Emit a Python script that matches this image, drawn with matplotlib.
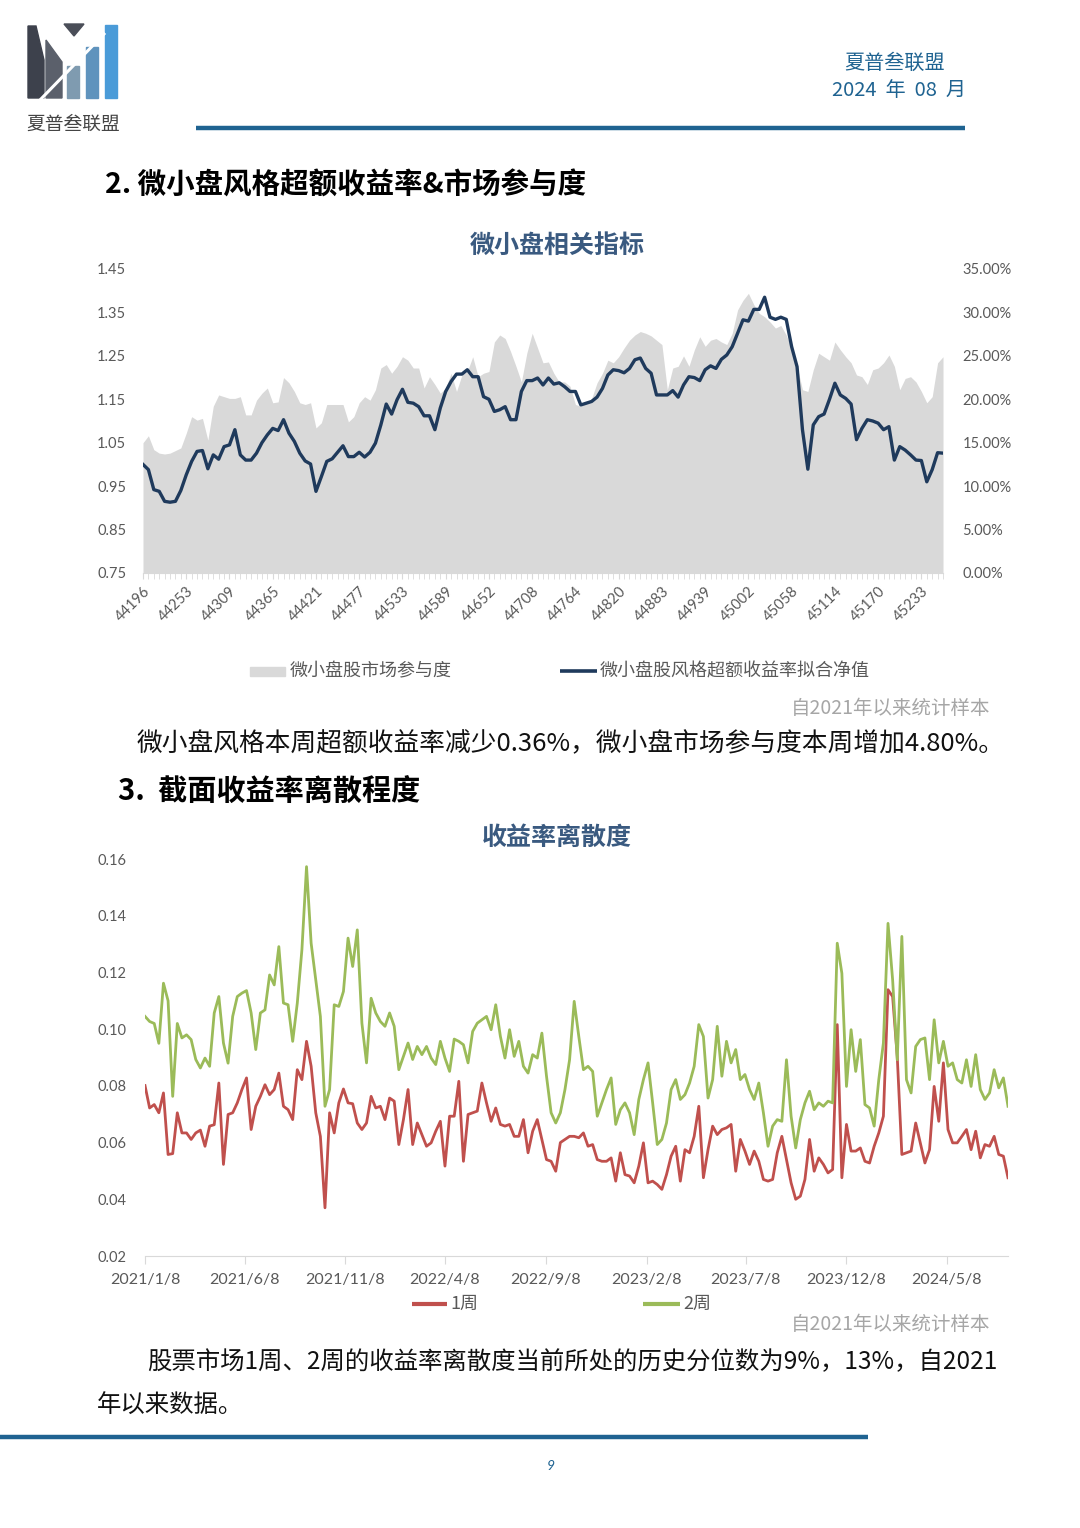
import matplotlib
matplotlib.use("Agg")
import matplotlib.pyplot as plt
from matplotlib.patches import Polygon, Rectangle
import pandas as pd

plt.rcParams['font.family'] = ['Lato', 'Noto Sans CJK SC', 'DejaVu Sans']
CJK = ['Noto Sans CJK SC', 'DejaVu Sans']

# ---- chart 1: 微小盘相关指标 (weekly, category axis) ----
tick_labels_1 = ['44196', '44253', '44309', '44365', '44421', '44477', '44533', '44589', '44652',
                 '44708', '44764', '44820', '44883', '44939', '45002', '45058', '45114', '45170', '45233']

excess_nav = [1.000, 0.988, 0.942, 0.938, 0.915, 0.913, 0.915, 0.940, 0.976, 1.007,
              1.030, 1.032, 0.990, 1.022, 1.012, 1.041, 1.045, 1.080, 1.022, 1.010,
              1.010, 1.026, 1.050, 1.068, 1.083, 1.078, 1.103, 1.072, 1.053, 1.026,
              1.008, 1.001, 0.938, 0.972, 1.007, 1.013, 1.028, 1.043, 1.018, 1.018,
              1.028, 1.017, 1.028, 1.049, 1.091, 1.139, 1.116, 1.149, 1.173, 1.143,
              1.141, 1.133, 1.112, 1.112, 1.080, 1.130, 1.168, 1.191, 1.208, 1.208,
              1.218, 1.202, 1.202, 1.156, 1.150, 1.122, 1.126, 1.133, 1.103, 1.103,
              1.168, 1.193, 1.193, 1.199, 1.183, 1.199, 1.185, 1.188, 1.179, 1.168,
              1.168, 1.137, 1.141, 1.145, 1.155, 1.175, 1.206, 1.218, 1.216, 1.211,
              1.221, 1.241, 1.245, 1.221, 1.210, 1.160, 1.160, 1.160, 1.170, 1.155,
              1.183, 1.202, 1.200, 1.193, 1.218, 1.227, 1.221, 1.242, 1.252, 1.271,
              1.302, 1.333, 1.330, 1.357, 1.357, 1.385, 1.339, 1.334, 1.339, 1.334,
              1.271, 1.225, 1.080, 0.989, 1.091, 1.110, 1.116, 1.150, 1.187, 1.160,
              1.152, 1.139, 1.057, 1.083, 1.103, 1.100, 1.095, 1.080, 1.087, 1.010,
              1.041, 1.033, 1.022, 1.010, 1.009, 0.960, 0.988, 1.027, 1.026]

participation = [15.0, 15.8, 14.2, 13.8, 13.7, 13.8, 14.1, 14.4, 16.1, 18.0,
                 17.6, 17.8, 15.3, 19.2, 20.5, 20.3, 20.1, 20.1, 20.3, 18.2,
                 18.2, 19.9, 20.7, 21.3, 19.6, 19.7, 22.5, 21.9, 20.9, 19.6,
                 19.4, 19.6, 16.7, 17.3, 19.4, 19.4, 19.4, 19.4, 17.4, 18.0,
                 19.6, 20.3, 19.9, 21.1, 23.6, 24.0, 23.0, 23.8, 24.9, 24.5,
                 23.6, 23.6, 21.3, 22.6, 21.7, 20.7, 21.3, 23.0, 20.9, 22.8,
                 23.2, 24.9, 22.6, 23.0, 23.2, 26.6, 27.4, 27.0, 25.5, 23.8,
                 22.0, 25.3, 27.6, 25.9, 24.2, 24.3, 23.0, 22.0, 22.0, 21.5,
                 19.4, 19.2, 19.6, 20.1, 21.9, 23.0, 24.5, 24.2, 24.9, 25.9,
                 26.8, 27.4, 27.8, 27.6, 27.3, 26.8, 26.3, 21.1, 23.6, 23.8,
                 25.0, 23.8, 25.7, 27.2, 26.1, 26.8, 27.0, 26.6, 26.3, 27.6,
                 30.3, 31.4, 32.2, 30.9, 29.9, 29.5, 28.9, 28.2, 28.5, 27.4,
                 25.9, 23.8, 21.1, 20.9, 23.4, 25.3, 24.9, 24.5, 26.6, 25.7,
                 24.9, 24.2, 22.8, 22.6, 21.7, 23.4, 23.6, 24.2, 25.1, 23.8,
                 21.1, 22.4, 22.6, 22.0, 20.9, 19.6, 20.3, 24.2, 24.9]

# ---- chart 2: 收益率离散度 (weekly from 2021/1/8) ----
start_date = '2021-01-08'
disp_1w = [0.0801, 0.0722, 0.0734, 0.0705, 0.0775, 0.0558, 0.0561, 0.0705, 0.0634, 0.0634,
           0.0611, 0.0634, 0.0644, 0.0587, 0.0658, 0.0663, 0.0810, 0.0523, 0.0699, 0.0705,
           0.0740, 0.0787, 0.0828, 0.0646, 0.0728, 0.0763, 0.0804, 0.0769, 0.0787, 0.0845,
           0.0728, 0.0716, 0.0681, 0.0857, 0.0822, 0.0957, 0.0869, 0.0705, 0.0622, 0.0370,
           0.0705, 0.0634, 0.0740, 0.0789, 0.0740, 0.0737, 0.0669, 0.0646, 0.0669, 0.0763,
           0.0722, 0.0728, 0.0681, 0.0757, 0.0746, 0.0593, 0.0681, 0.0787, 0.0593, 0.0669,
           0.0628, 0.0587, 0.0599, 0.0640, 0.0675, 0.0517, 0.0693, 0.0693, 0.0816, 0.0534,
           0.0699, 0.0705, 0.0711, 0.0810, 0.0740, 0.0675, 0.0722, 0.0664, 0.0658, 0.0664,
           0.0622, 0.0622, 0.0681, 0.0564, 0.0640, 0.0681, 0.0611, 0.0540, 0.0534, 0.0499,
           0.0600, 0.0611, 0.0622, 0.0622, 0.0617, 0.0634, 0.0587, 0.0593, 0.0540, 0.0534,
           0.0534, 0.0546, 0.0464, 0.0564, 0.0487, 0.0482, 0.0458, 0.0517, 0.0599, 0.0458,
           0.0464, 0.0452, 0.0435, 0.0487, 0.0552, 0.0587, 0.0464, 0.0575, 0.0564, 0.0622,
           0.0728, 0.0476, 0.0575, 0.0658, 0.0628, 0.0646, 0.0652, 0.0664, 0.0499, 0.0611,
           0.0570, 0.0523, 0.0570, 0.0534, 0.0470, 0.0464, 0.0470, 0.0564, 0.0622, 0.0540,
           0.0458, 0.0400, 0.0411, 0.0470, 0.0611, 0.0499, 0.0546, 0.0523, 0.0493, 0.0505,
           0.1016, 0.0476, 0.0664, 0.0570, 0.0570, 0.0581, 0.0534, 0.0528, 0.0587, 0.0634,
           0.0693, 0.1139, 0.1115, 0.0904, 0.0558, 0.0564, 0.0570, 0.0669, 0.0599, 0.0528,
           0.0575, 0.0798, 0.0675, 0.0881, 0.0646, 0.0599, 0.0599, 0.0622, 0.0646, 0.0575,
           0.0640, 0.0546, 0.0593, 0.0587, 0.0622, 0.0558, 0.0552, 0.0476]

disp_2w = [0.1045, 0.1027, 0.1020, 0.0950, 0.1162, 0.1100, 0.0763, 0.1020, 0.0969, 0.0980,
           0.0963, 0.0893, 0.0863, 0.0898, 0.0869, 0.1057, 0.1115, 0.0951, 0.0880, 0.1045,
           0.1115, 0.1127, 0.1136, 0.1057, 0.0928, 0.1057, 0.1068, 0.1191, 0.1156, 0.1291,
           0.1092, 0.1086, 0.0957, 0.1092, 0.1280, 0.1573, 0.1303, 0.1174, 0.1045, 0.0728,
           0.0787, 0.1086, 0.1080, 0.1133, 0.1321, 0.1221, 0.1350, 0.1021, 0.0881, 0.1109,
           0.1057, 0.1027, 0.1010, 0.1057, 0.1010, 0.0857, 0.0904, 0.0951, 0.0893, 0.0939,
           0.0910, 0.0939, 0.0898, 0.0875, 0.0957, 0.0898, 0.0851, 0.0965, 0.0957, 0.0945,
           0.0881, 0.0992, 0.1021, 0.1033, 0.1045, 0.0998, 0.1086, 0.0975, 0.0898, 0.0998,
           0.0904, 0.0957, 0.0869, 0.0845, 0.0910, 0.0898, 0.0986, 0.0834, 0.0705, 0.0669,
           0.0705, 0.0787, 0.0892, 0.1098, 0.0974, 0.0857, 0.0869, 0.0851, 0.0693, 0.0740,
           0.0787, 0.0828, 0.0664, 0.0716, 0.0740, 0.0705, 0.0628, 0.0752, 0.0822, 0.0881,
           0.0740, 0.0593, 0.0611, 0.0669, 0.0787, 0.0822, 0.0752, 0.0769, 0.0810, 0.0869,
           0.1016, 0.0974, 0.0757, 0.0822, 0.1010, 0.0834, 0.0957, 0.0881, 0.0928, 0.0822,
           0.0840, 0.0787, 0.0752, 0.0810, 0.0705, 0.0587, 0.0658, 0.0681, 0.0675, 0.0892,
           0.0693, 0.0581, 0.0681, 0.0740, 0.0781, 0.0716, 0.0740, 0.0728, 0.0746, 0.0740,
           0.1303, 0.1197, 0.0798, 0.0998, 0.0851, 0.0963, 0.0734, 0.0722, 0.0658, 0.0822,
           0.0951, 0.1373, 0.1174, 0.0892, 0.1327, 0.0822, 0.0775, 0.0939, 0.0963, 0.0969,
           0.0822, 0.1033, 0.0881, 0.0957, 0.0869, 0.0881, 0.0822, 0.0810, 0.0892, 0.0798,
           0.0910, 0.0787, 0.0752, 0.0775, 0.0857, 0.0793, 0.0828, 0.0728]

tick_dates_2 = ['2021-01-08', '2021-06-08', '2021-11-08', '2022-04-08', '2022-09-08',
                '2023-02-08', '2023-07-08', '2023-12-08', '2024-05-08']
tick_labels_2 = ['2021/1/8', '2021/6/8', '2021/11/8', '2022/4/8', '2022/9/8',
                 '2023/2/8', '2023/7/8', '2023/12/8', '2024/5/8']

NAVY = '#1f3a5c'
AREA = '#d9d9d9'
RED = '#c0504d'
GREEN = '#9bbb59'
TICK = '#595959'
BLUE = '#1f6391'
W, H = 1080, 1528

fig = plt.figure(figsize=(W / 100, H / 100), dpi=100)

# page decoration layer in pixel coordinates
deco = fig.add_axes([0, 0, 1, 1])
deco.set_xlim(0, W)
deco.set_ylim(H, 0)
deco.axis('off')

# logo
deco.add_patch(Polygon([(28, 26), (36, 26), (44, 60), (44, 98), (28, 98)], closed=True, color='#3d414c'))
deco.add_patch(Polygon([(46, 40), (62, 62), (62, 98), (46, 98)], closed=True, color='#5b606b'))
deco.add_patch(Polygon([(64, 24), (84, 24), (74, 36)], closed=True, color='#4a4e58'))
deco.add_patch(Rectangle((67, 66), 12, 32, color='#7f9bb0'))
deco.add_patch(Rectangle((86, 47), 12, 51, color='#5f93bd'))
deco.add_patch(Rectangle((105, 25), 12, 73, color='#4a9bd8'))
deco.plot([40, 104], [100, 34], color='white', lw=2.2)
deco.text(73, 124, '夏普叁联盟', family=CJK, fontsize=13.5, color='#444444', ha='center', va='center')

# header right
deco.text(895, 63, '夏普叁联盟', family=CJK, fontsize=14.5, color=BLUE, ha='center', va='center')
deco.text(899, 90, '2024  年  08  月', family=CJK, fontsize=14.5, color=BLUE, ha='center', va='center')
deco.plot([196, 965], [128, 128], color=BLUE, lw=3.2, solid_capstyle='butt')

# section 2
deco.text(105, 186, '2. 微小盘风格超额收益率&市场参与度', family=CJK, fontsize=20.5,
          fontweight='bold', color='black', ha='left', va='center')
deco.text(557, 246, '微小盘相关指标', family=CJK, fontsize=18, fontweight='bold',
          color='#3a5a80', ha='center', va='center')

# legend chart 1
deco.add_patch(Rectangle((250, 667), 35, 9, color=AREA))
deco.text(290, 671, '微小盘股市场参与度', family=CJK, fontsize=13, color=TICK, ha='left', va='center')
deco.plot([560, 597], [671, 671], color=NAVY, lw=2.6, solid_capstyle='butt')
deco.text(600, 671, '微小盘股风格超额收益率拟合净值', family=CJK, fontsize=13, color=TICK,
          ha='left', va='center')
deco.text(990, 708, '自2021年以来统计样本', family=CJK, fontsize=14, color='#a6a6a6',
          ha='right', va='center')

deco.text(137, 744, '微小盘风格本周超额收益率减少0.36%，微小盘市场参与度本周增加4.80%。',
          family=CJK, fontsize=18.5, color='#111111', ha='left', va='center')

# section 3
deco.text(118, 792, '3.  截面收益率离散程度', family=CJK, fontsize=21, fontweight='bold',
          color='black', ha='left', va='center')
deco.text(557, 838, '收益率离散度', family=CJK, fontsize=18, fontweight='bold',
          color='#3a5a80', ha='center', va='center')

# legend chart 2
deco.plot([412, 447], [1304, 1304], color=RED, lw=3, solid_capstyle='butt')
deco.text(450, 1304, '1周', family=CJK, fontsize=13, color=TICK, ha='left', va='center')
deco.plot([643, 680], [1304, 1304], color=GREEN, lw=3, solid_capstyle='butt')
deco.text(683, 1304, '2周', family=CJK, fontsize=13, color=TICK, ha='left', va='center')
deco.text(990, 1324, '自2021年以来统计样本', family=CJK, fontsize=14, color='#a6a6a6',
          ha='right', va='center')

deco.text(147, 1362, '股票市场1周、2周的收益率离散度当前所处的历史分位数为9%，13%，自2021',
          family=CJK, fontsize=17.6, color='#111111', ha='left', va='center')
deco.text(97, 1406, '年以来数据。', family=CJK, fontsize=17.6, color='#111111', ha='left', va='center')

deco.plot([0, 868], [1437, 1437], color=BLUE, lw=3.2, solid_capstyle='butt')
deco.text(551, 1466, '9', fontsize=10, color=BLUE, style='italic', ha='center', va='center')

# ---- chart 1 ----
ax1 = fig.add_axes([143 / W, 1 - 573 / H, 800 / W, 304 / H])
ax1r = ax1.twinx()
x1 = list(range(len(excess_nav)))
ax1r.fill_between(x1, 0, [p / 100 for p in participation], color=AREA, lw=0)
ax1r.set_ylim(0, 0.35)
ax1r.set_yticks([i * 0.05 for i in range(8)])
ax1r.yaxis.set_major_formatter(plt.FuncFormatter(lambda v, p: f'{v * 100:.2f}%'))

ax1.plot(x1, excess_nav, color=NAVY, lw=2.4, solid_joinstyle='round')
ax1.set_ylim(0.75, 1.45)
ax1.set_yticks([0.75 + 0.1 * i for i in range(8)])
ax1.yaxis.set_major_formatter(plt.FuncFormatter(lambda v, p: f'{v:.2f}'))
ax1.set_xlim(0, len(excess_nav) - 1)
ax1.set_xticks(list(range(0, 8 * len(tick_labels_1), 8)))
ax1.set_xticklabels(tick_labels_1, rotation=45, ha='right', rotation_mode='anchor')
ax1.set_xticks(x1, minor=True)
ax1.set_zorder(ax1r.get_zorder() + 1)
ax1.patch.set_visible(False)

for a in (ax1, ax1r):
    for s in ('top', 'left', 'right'):
        a.spines[s].set_visible(False)
    a.spines['bottom'].set_color('#d9d9d9')
ax1r.spines['bottom'].set_visible(False)
ax1.tick_params(axis='y', length=0, pad=12, labelsize=10.5, labelcolor=TICK)
ax1r.tick_params(axis='y', length=0, pad=14, labelsize=10.5, labelcolor=TICK)
ax1.tick_params(axis='x', which='major', length=4, color='#d9d9d9', pad=4,
                labelsize=10.5, labelcolor=TICK)
ax1.tick_params(axis='x', which='minor', length=4, color='#d9d9d9')

# ---- chart 2 ----
dates = pd.date_range(start_date, periods=len(disp_1w), freq='7D')
ax2 = fig.add_axes([145 / W, 1 - 1256 / H, (1008 - 145) / W, 397 / H])
ax2.plot(dates, disp_1w, color=RED, lw=2.0, solid_joinstyle='round')
ax2.plot(dates, disp_2w, color=GREEN, lw=2.0, solid_joinstyle='round')
ax2.set_ylim(0.02, 0.16)
ax2.set_yticks([0.02 * i for i in range(1, 9)])
ax2.yaxis.set_major_formatter(plt.FuncFormatter(lambda v, p: f'{v:.2f}'))
ax2.set_xlim(dates[0], dates[-1])
ax2.set_xticks(pd.to_datetime(tick_dates_2))
ax2.set_xticklabels(tick_labels_2)
for s in ('top', 'left', 'right'):
    ax2.spines[s].set_visible(False)
ax2.spines['bottom'].set_color('#d9d9d9')
ax2.tick_params(axis='y', length=0, pad=13, labelsize=10.5, labelcolor=TICK)
ax2.tick_params(axis='x', length=6, color='#d9d9d9', pad=6, labelsize=11.5, labelcolor=TICK)

fig.savefig('out.png', dpi=100, facecolor='white')
